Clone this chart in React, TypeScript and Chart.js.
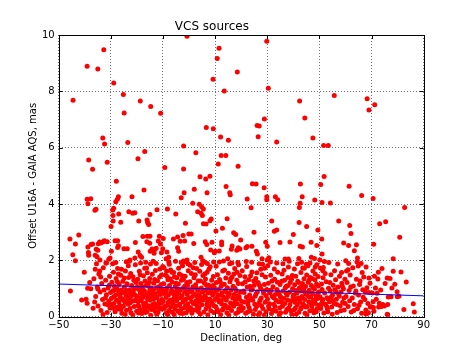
import React, { useEffect, useRef } from 'react';
import { Chart, registerables } from 'chart.js';

Chart.register(...registerables);

const TITLE = 'VCS sources';
const X_LABEL = 'Declination, deg';
const Y_LABEL = 'Offset U16A - GAIA AQS, mas';
const X_TICKS = [-50, -30, -10, 10, 30, 50, 70, 90];
const Y_TICKS = [0, 2, 4, 6, 8, 10];

// Sources with large offsets: [declination, offset]
const highSources: number[][] = [
  [-0.8, 9.96], [-32.7, 9.48], [11.5, 9.53], [10.8, 9.17], [29.8, 9.78],
  [-39.1, 8.89], [-35.0, 8.79], [-28.9, 8.3], [-25.2, 7.89], [-44.5, 7.68], [-18.7, 7.66], [-14.7, 7.46],
  [-24.9, 7.23], [-10.9, 7.22], [-33.1, 6.34], [-32.4, 6.13], [-23.5, 6.18], [-38.5, 5.56], [-19.6, 5.61],
  [-17.0, 5.86], [-31.4, 5.48], [-37.0, 5.23], [-9.3, 5.3],
  [18.5, 8.69], [9.2, 8.43], [13.5, 8.01], [30.4, 8.11], [42.4, 7.66], [28.9, 7.02], [6.6, 6.72], [9.3, 6.67],
  [26.1, 6.79], [26.9, 6.77], [12.1, 6.38], [26.5, 6.39], [15.1, 6.26], [33.6, 6.2], [-2.1, 6.06], [2.6, 5.82],
  [12.3, 5.72], [14.1, 5.72], [11.2, 5.42], [18.8, 5.34], [-2.1, 5.24], [4.2, 4.97], [6.4, 4.89], [8.0, 4.99],
  [55.7, 7.85], [44.4, 7.05], [68.3, 7.74], [71.2, 7.52], [69.0, 7.34], [47.5, 6.34], [51.6, 6.08], [53.4, 6.08], [51.8, 4.98],
];

// Sources with offsets between about 2 and 5 mas: [declination, offset]
const midSources: number[][] = [
  [-27.9, 4.81], [-17.3, 4.5], [-21.9, 4.26], [-27.1, 4.26], [-27.5, 4.17], [-28.1, 4.08], [-39.1, 4.17], [-37.7, 4.19],
  [-38.8, 4.01], [-35.7, 3.81], [-36.1, 3.78], [-28.9, 3.85], [-29.3, 3.79], [-23.1, 3.73], [-20.8, 3.69], [-21.6, 3.67],
  [-27.0, 3.65], [-29.2, 3.59], [-29.1, 3.4], [-29.9, 3.2], [-26.2, 3.35], [-19.3, 3.4], [-16.1, 3.43], [-15.9, 3.34],
  [-15.5, 3.27], [-15.0, 3.63], [-12.3, 3.8], [-8.3, 3.82], [-5.1, 3.65],
  [-45.7, 2.76], [-42.3, 2.9], [-43.6, 2.58], [-44.6, 2.2], [-43.6, 1.99], [-38.8, 2.47], [-38.6, 2.28], [-38.5, 2.18],
  [-37.6, 2.56], [-37.0, 2.58], [-35.6, 2.39], [-35.0, 2.36], [-36.0, 2.18], [-35.3, 2.13], [-34.8, 2.59], [-34.3, 2.65],
  [-33.1, 2.65], [-32.5, 2.7], [-33.9, 2.62], [-31.4, 2.66], [-29.8, 2.32], [-28.4, 2.7], [-27.4, 2.7], [-27.1, 2.52],
  [-27.4, 2.46], [-25.0, 2.41], [-23.7, 2.41], [-30.3, 2.08], [-30.8, 2.04], [-31.7, 1.91], [-34.2, 2.01], [-20.6, 2.63],
  [-19.5, 2.3], [-18.8, 2.17], [-18.2, 2.11], [-20.8, 2.08], [-22.7, 2.01], [-17.7, 2.85], [-16.0, 2.86], [-15.0, 2.86],
  [-16.2, 2.66], [-15.1, 2.61], [-14.2, 2.4], [-14.9, 2.32], [-13.3, 2.37], [-11.4, 2.86], [-9.9, 2.78], [-11.8, 2.69],
  [-11.0, 2.58], [-12.6, 2.43], [-13.4, 2.25], [-8.8, 2.06], [-7.8, 2.11], [-10.1, 2.41], [-10.6, 2.27], [-8.5, 2.3],
  [-4.4, 2.45], [-4.0, 2.32], [-6.0, 2.76],
  [-1.9, 4.4], [-3.0, 4.22], [2.0, 4.52], [6.9, 4.4], [1.4, 4.03], [3.9, 3.99], [4.8, 3.9], [5.5, 3.82], [3.3, 3.73],
  [4.6, 3.67], [5.1, 3.59], [8.5, 3.47], [8.0, 3.41], [-1.4, 3.32], [5.5, 3.3], [6.5, 3.29], [14.2, 4.62], [15.6, 4.4],
  [15.8, 4.33], [24.3, 4.72], [25.7, 4.71], [28.8, 4.58], [29.8, 4.26], [29.8, 4.15], [33.1, 4.26], [34.0, 4.15],
  [22.3, 4.18], [23.8, 3.87], [14.6, 3.48], [10.3, 3.04], [12.8, 3.14], [17.1, 2.98], [17.9, 2.92], [24.9, 3.0],
  [31.7, 3.4], [32.7, 3.03], [33.6, 3.08], [42.2, 3.34],
  [-4.4, 2.83], [-2.3, 2.88], [-3.4, 2.68], [-1.7, 2.69], [-0.1, 2.94], [0.8, 2.94], [1.8, 2.6], [-0.8, 2.01],
  [-1.6, 1.95], [-2.2, 1.98], [6.2, 2.66], [6.8, 2.56], [8.8, 2.64], [8.3, 2.37], [10.1, 2.32], [11.6, 2.33], [9.7, 2.27],
  [4.6, 2.11], [5.3, 1.99], [5.8, 1.94], [12.5, 2.65], [12.5, 2.55], [16.5, 2.51], [16.2, 2.39], [18.3, 2.36], [19.5, 2.4],
  [19.8, 2.72], [18.9, 2.45], [14.8, 2.06], [21.8, 2.45], [22.3, 2.49], [24.1, 2.5], [25.8, 2.32], [26.2, 2.23],
  [18.7, 1.92], [29.4, 2.64], [30.0, 2.5], [30.6, 2.09], [30.0, 2.01], [28.0, 2.06], [34.9, 2.63], [36.8, 2.05],
  [38.1, 2.05], [38.7, 2.65],
  [42.7, 4.71], [50.5, 4.69], [61.4, 4.63], [43.4, 4.26], [48.2, 4.14], [42.6, 4.03], [42.3, 3.88], [51.0, 4.05],
  [54.2, 4.04], [66.2, 4.3], [70.6, 4.2], [82.7, 3.88], [45.1, 3.2], [57.4, 3.4], [61.6, 3.24], [73.1, 3.3], [75.4, 3.37],
  [49.4, 3.08], [40.0, 2.92], [42.6, 2.5], [43.5, 2.47], [46.8, 2.64], [49.0, 2.53], [50.9, 2.76], [62.1, 2.95],
  [59.3, 2.62], [61.2, 2.53], [64.2, 2.55], [63.4, 2.34], [70.8, 2.57], [80.8, 2.82], [51.0, 2.23], [42.1, 2.07],
  [46.9, 2.11], [48.1, 2.07], [50.2, 2.01], [64.6, 2.08], [60.1, 1.99], [78.3, 2.06],
  [45.0, 1.86], [44.2, 1.72], [48.4, 1.76], [51.5, 1.75], [51.3, 1.63], [64.9, 1.8], [66.0, 1.89], [67.9, 1.76], [61.0, 1.67],
];

// Dense cloud below 2 mas, flat (declination, offset) pairs per declination band
const cloudFarSouth = [
  -45.5, 0.91, -40.2, 1.58, -41.2, 0.59, -39.5, 0.62, -39.1, 0.48, -38.1, 1.21, -38.9, 1.01, -37.7, 0.99, -36.8, 0.3, -36.0, 1.68,
];
const cloudM35 = [
  -36.5, 1.35, -35.8, 0.72, -35.2, 1.05, -34.9, 0.38, -34.6, 1.52, -34.1, 0.88, -33.8, 0.22, -33.5, 1.18, -33.2, 0.61, -32.9, 1.74,
  -32.6, 0.95, -32.3, 0.45, -32.0, 1.29, -31.7, 0.78, -31.4, 0.15, -31.1, 1.02, -30.8, 0.55, -30.5, 1.44, -30.3, 0.31, -30.1, 0.86,
  -36.2, 0.52, -35.5, 1.88, -34.3, 1.62, -33.0, 0.08, -31.9, 1.91, -30.6, 1.12, -35.0, 0.98, -32.1, 0.66, -33.9, 1.41, -31.2, 0.42,
];
const cloudM25 = [
  -29.8, 0.65, -29.6, 1.22, -29.4, 0.31, -29.2, 0.92, -29.0, 1.58, -28.8, 0.47, -28.6, 1.08, -28.4, 0.18, -28.2, 0.76, -28.0, 1.36,
  -27.8, 0.58, -27.6, 0.99, -27.4, 1.71, -27.2, 0.27, -27.0, 0.84, -26.8, 1.15, -26.6, 0.41, -26.4, 0.69, -26.2, 1.47, -26.0, 0.95,
  -25.8, 0.12, -25.6, 0.63, -25.4, 1.26, -25.2, 0.37, -25.0, 0.88, -24.8, 1.05, -24.6, 0.51, -24.4, 1.62, -24.2, 0.74, -24.0, 0.23,
  -23.8, 1.17, -23.6, 0.82, -23.4, 0.44, -23.2, 1.39, -23.0, 0.67, -22.8, 0.96, -22.6, 0.29, -22.4, 1.53, -22.2, 0.72, -22.0, 1.11,
  -21.8, 0.55, -21.6, 0.06, -21.4, 0.89, -21.2, 1.29, -21.0, 0.36, -20.8, 0.78, -20.6, 1.84, -20.4, 0.61, -20.2, 1.02, -20.1, 0.19,
  -29.3, 1.88, -28.5, 0.95, -27.9, 0.33, -27.1, 1.52, -26.5, 0.77, -25.9, 1.68, -25.1, 0.58, -24.5, 0.08, -23.9, 0.93, -23.3, 1.81,
  -22.7, 0.49, -22.1, 0.84, -21.5, 1.42, -20.9, 0.57, -20.3, 1.21, -29.9, 0.43, -28.9, 0.71, -27.5, 1.24, -26.1, 0.26, -24.9, 1.37,
  -23.5, 0.61, -22.3, 0.14, -21.1, 0.99, -25.5, 0.86, -26.9, 0.53, -24.1, 1.95, -28.1, 1.92, -22.9, 1.97,
];
const cloudM15 = [
  -19.9, 0.72, -19.7, 1.33, -19.5, 0.41, -19.3, 0.97, -19.1, 1.61, -18.9, 0.25, -18.7, 0.83, -18.5, 1.18, -18.3, 0.56, -18.1, 0.11,
  -17.9, 1.06, -17.7, 0.68, -17.5, 1.45, -17.3, 0.34, -17.1, 0.91, -16.9, 1.27, -16.7, 0.49, -16.5, 0.76, -16.3, 1.73, -16.1, 0.18,
  -15.9, 0.62, -15.7, 1.09, -15.5, 0.39, -15.3, 0.87, -15.1, 1.36, -14.9, 0.58, -14.7, 0.05, -14.5, 1.02, -14.3, 0.74, -14.1, 1.51,
  -13.9, 0.28, -13.7, 0.93, -13.5, 1.19, -13.3, 0.47, -13.1, 0.81, -12.9, 1.64, -12.7, 0.35, -12.5, 1.03, -12.3, 0.66, -12.1, 1.28,
  -11.9, 0.16, -11.7, 0.88, -11.5, 0.53, -11.3, 1.41, -11.1, 0.79, -10.9, 0.31, -10.7, 1.14, -10.5, 0.61, -10.3, 0.98, -10.1, 1.78,
  -19.6, 0.55, -18.8, 1.49, -18.0, 0.81, -17.2, 0.22, -16.4, 1.12, -15.6, 0.71, -14.8, 1.87, -14.0, 0.42, -13.2, 1.32, -12.4, 0.09,
  -11.6, 1.06, -10.8, 0.48, -19.2, 0.36, -17.6, 0.95, -16.0, 1.56, -14.4, 0.26, -12.8, 0.73, -11.2, 1.69, -10.4, 0.27, -18.4, 0.67,
  -16.8, 0.15, -15.2, 1.22, -13.6, 0.63, -12.0, 0.44, -19.8, 1.05, -17.0, 1.72, -15.0, 0.97, -13.0, 0.19, -11.0, 0.92, -16.6, 1.93,
  -13.8, 1.97, -18.6, 1.91, -12.6, 1.89, -19.4, 0.13, -14.6, 0.83, -11.4, 0.29, -17.4, 0.44, -15.8, 0.33, -10.6, 1.48,
];
const cloudM5 = [
  -9.9, 0.54, -9.7, 1.17, -9.5, 0.29, -9.3, 0.86, -9.1, 1.48, -8.9, 0.68, -8.7, 0.13, -8.5, 1.02, -8.3, 0.41, -8.1, 1.31,
  -7.9, 0.77, -7.7, 0.22, -7.5, 1.11, -7.3, 0.59, -7.1, 1.66, -6.9, 0.35, -6.7, 0.94, -6.5, 1.23, -6.3, 0.48, -6.1, 0.82,
  -5.9, 1.57, -5.7, 0.07, -5.5, 0.71, -5.3, 1.07, -5.1, 0.38, -4.9, 0.91, -4.7, 1.38, -4.5, 0.63, -4.3, 0.19, -4.1, 1.16,
  -3.9, 0.85, -3.7, 1.52, -3.5, 0.44, -3.3, 0.96, -3.1, 0.27, -2.9, 1.29, -2.7, 0.74, -2.5, 1.81, -2.3, 0.53, -2.1, 1.04,
  -1.9, 0.31, -1.7, 0.87, -1.5, 1.44, -1.3, 0.62, -1.1, 0.14, -0.9, 1.21, -0.7, 0.79, -0.5, 0.46, -0.3, 1.63, -0.1, 0.95,
  -9.6, 1.74, -8.8, 0.92, -8.0, 0.51, -7.2, 1.34, -6.4, 0.16, -5.6, 1.42, -4.8, 0.56, -4.0, 1.72, -3.2, 0.67, -2.4, 0.11,
  -1.6, 1.09, -0.8, 0.34, -9.2, 0.37, -7.6, 1.86, -6.0, 0.63, -4.4, 0.98, -2.8, 1.46, -1.2, 0.92, -9.8, 0.82, -8.2, 0.06,
  -6.6, 1.58, -5.0, 1.19, -3.4, 0.12, -1.8, 0.58, -0.2, 0.23, -8.6, 1.61, -7.0, 0.88, -5.4, 0.27, -3.8, 0.41, -2.2, 1.33,
  -0.6, 1.12, -7.8, 1.94, -5.2, 1.97, -3.0, 1.92, -0.4, 1.88, -4.6, 0.79, -6.8, 0.56, -1.4, 0.39, -8.4, 1.43,
];
const cloudP5 = [
  0.1, 0.66, 0.3, 1.24, 0.5, 0.33, 0.7, 0.89, 0.9, 1.53, 1.1, 0.12, 1.3, 0.72, 1.5, 1.06, 1.7, 0.47, 1.9, 1.38,
  2.1, 0.81, 2.3, 0.24, 2.5, 1.13, 2.7, 0.57, 2.9, 1.71, 3.1, 0.38, 3.3, 0.93, 3.5, 1.27, 3.7, 0.51, 3.9, 0.78,
  4.1, 1.61, 4.3, 0.09, 4.5, 0.69, 4.7, 1.02, 4.9, 0.42, 5.1, 0.88, 5.3, 1.46, 5.5, 0.59, 5.7, 0.17, 5.9, 1.19,
  6.1, 0.74, 6.3, 1.34, 6.5, 0.28, 6.7, 0.97, 6.9, 1.58, 7.1, 0.52, 7.3, 0.84, 7.5, 1.12, 7.7, 0.36, 7.9, 0.63,
  8.1, 1.77, 8.3, 0.21, 8.5, 0.92, 8.7, 1.29, 8.9, 0.47, 9.1, 0.76, 9.3, 1.43, 9.5, 0.15, 9.7, 1.04, 9.9, 0.61,
  0.4, 1.83, 1.2, 0.95, 2.0, 0.46, 2.8, 1.02, 3.6, 0.18, 4.4, 1.27, 5.2, 0.64, 6.0, 1.52, 6.8, 0.42, 7.6, 1.68,
  8.4, 0.55, 9.2, 1.11, 0.8, 0.28, 2.4, 1.49, 4.0, 0.56, 5.6, 0.91, 7.2, 0.06, 8.8, 0.83, 1.6, 1.74, 3.2, 0.71,
  4.8, 1.85, 6.4, 0.67, 8.0, 1.05, 9.6, 0.39, 0.2, 0.96, 2.2, 1.92, 5.4, 1.96, 7.0, 1.89, 9.4, 1.94, 1.0, 0.54,
  3.8, 0.31, 6.6, 1.13,
];
const cloudP15 = [
  10.1, 0.88, 10.3, 0.35, 10.5, 1.21, 10.7, 0.64, 10.9, 1.49, 11.1, 0.18, 11.3, 0.97, 11.5, 0.53, 11.7, 1.32, 11.9, 0.76,
  12.1, 0.07, 12.3, 1.08, 12.5, 0.45, 12.7, 0.85, 12.9, 1.62, 13.1, 0.29, 13.3, 0.69, 13.5, 1.15, 13.7, 0.41, 13.9, 0.93,
  14.1, 1.37, 14.3, 0.58, 14.5, 0.14, 14.7, 1.03, 14.9, 0.72, 15.1, 1.54, 15.3, 0.33, 15.5, 0.81, 15.7, 1.24, 15.9, 0.49,
  16.1, 0.95, 16.3, 0.22, 16.5, 1.41, 16.7, 0.66, 16.9, 1.08, 17.1, 0.37, 17.3, 0.79, 17.5, 1.71, 17.7, 0.55, 17.9, 0.11,
  18.1, 0.92, 18.3, 1.29, 18.5, 0.46, 18.7, 0.74, 18.9, 1.18, 19.1, 0.27, 19.3, 0.63, 19.5, 1.46, 19.7, 0.87, 19.9, 0.38,
  10.4, 1.79, 11.2, 0.61, 12.0, 1.23, 12.8, 0.24, 13.6, 1.66, 14.4, 0.86, 15.2, 0.06, 16.0, 1.35, 16.8, 0.44, 17.6, 1.01,
  18.4, 1.58, 19.2, 0.71, 10.8, 0.26, 12.4, 0.57, 14.0, 0.39, 15.6, 1.88, 17.2, 1.52, 18.8, 0.16, 11.6, 1.94, 13.2, 1.98,
  16.4, 1.91, 19.0, 1.84, 11.0, 0.78, 14.8, 0.31, 18.2, 0.62,
];
const cloudP25 = [
  20.2, 0.54, 20.5, 1.17, 20.8, 0.31, 21.1, 0.86, 21.4, 1.42, 21.7, 0.12, 22.0, 0.69, 22.3, 1.05, 22.6, 0.43, 22.9, 1.31,
  23.2, 0.77, 23.5, 0.21, 23.8, 0.95, 24.1, 1.59, 24.4, 0.58, 24.7, 0.09, 25.0, 1.12, 25.3, 0.73, 25.6, 1.36, 25.9, 0.36,
  26.2, 0.89, 26.5, 1.21, 26.8, 0.48, 27.1, 0.14, 27.4, 1.02, 27.7, 0.66, 28.0, 1.49, 28.3, 0.29, 28.6, 0.83, 28.9, 1.14,
  29.2, 0.51, 29.5, 0.18, 29.8, 0.97, 20.4, 1.63, 21.2, 0.52, 22.1, 1.78, 23.0, 0.33, 23.9, 0.64, 24.8, 1.27, 25.7, 0.81,
  26.6, 0.07, 27.5, 1.68, 28.4, 0.92, 29.3, 1.41, 20.9, 0.91, 22.5, 0.17, 24.3, 0.97, 26.0, 1.56, 27.8, 0.39, 29.6, 0.74,
  21.6, 1.24, 23.6, 1.45, 25.4, 0.26, 27.2, 0.58, 28.8, 0.05, 24.0, 1.93, 26.9, 1.88, 21.9, 1.96, 28.2, 1.86, 20.1, 0.22,
  22.8, 0.57, 25.2, 0.44, 29.0, 1.72, 23.4, 1.08, 27.0, 1.12,
];
const cloudP35 = [
  30.1, 0.62, 30.4, 1.19, 30.7, 0.28, 31.0, 0.85, 31.3, 1.47, 31.6, 0.11, 31.9, 0.73, 32.2, 1.06, 32.5, 0.44, 32.8, 1.33,
  33.1, 0.79, 33.4, 0.19, 33.7, 0.97, 34.0, 1.58, 34.3, 0.53, 34.6, 0.06, 34.9, 1.14, 35.2, 0.68, 35.5, 1.26, 35.8, 0.37,
  36.1, 0.91, 36.4, 1.65, 36.7, 0.47, 37.0, 0.16, 37.3, 1.08, 37.6, 0.76, 37.9, 1.39, 38.2, 0.31, 38.5, 0.87, 38.8, 1.21,
  39.1, 0.57, 39.4, 0.09, 39.7, 0.99, 30.2, 1.81, 30.9, 0.46, 31.5, 0.94, 32.1, 0.23, 32.7, 1.69, 33.3, 0.59, 33.9, 1.22,
  34.5, 0.81, 35.1, 0.14, 35.7, 1.52, 36.3, 0.65, 36.9, 1.03, 37.5, 0.26, 38.1, 1.76, 38.7, 0.42, 39.3, 1.33, 39.9, 0.71,
  30.6, 0.93, 31.8, 1.27, 33.0, 0.36, 34.2, 0.89, 35.4, 0.51, 36.6, 1.29, 37.8, 0.58, 39.0, 0.21, 31.2, 1.94, 33.6, 1.91,
  36.0, 1.88, 38.4, 1.97, 32.4, 0.67, 34.8, 0.32, 37.2, 0.84, 39.6, 1.46, 30.5, 0.37, 35.0, 0.73, 38.0, 1.11,
];
const cloudP45 = [
  40.1, 0.77, 40.3, 0.25, 40.5, 1.13, 40.7, 0.58, 40.9, 1.44, 41.1, 0.09, 41.3, 0.83, 41.5, 0.42, 41.7, 1.26, 41.9, 0.66,
  42.1, 0.16, 42.3, 1.02, 42.5, 0.51, 42.7, 0.91, 42.9, 1.57, 43.1, 0.33, 43.3, 0.72, 43.5, 1.18, 43.7, 0.45, 43.9, 0.97,
  44.1, 1.35, 44.3, 0.61, 44.5, 0.12, 44.7, 1.07, 44.9, 0.79, 45.1, 1.48, 45.3, 0.36, 45.5, 0.86, 45.7, 1.22, 45.9, 0.53,
  46.1, 0.94, 46.3, 0.21, 46.5, 1.39, 46.7, 0.69, 46.9, 1.11, 47.1, 0.38, 47.3, 0.82, 47.5, 1.62, 47.7, 0.56, 47.9, 0.14,
  48.1, 0.98, 48.3, 1.31, 48.5, 0.47, 48.7, 0.74, 48.9, 1.16, 49.1, 0.29, 49.3, 0.65, 49.5, 1.43, 49.7, 0.88, 49.9, 0.41,
  40.4, 1.69, 41.2, 0.64, 42.0, 1.21, 42.8, 0.27, 43.6, 1.73, 44.4, 0.87, 45.2, 0.06, 46.0, 1.29, 46.8, 0.47, 47.6, 1.04,
  48.4, 1.52, 49.2, 0.76, 40.8, 0.31, 42.4, 0.62, 44.0, 0.41, 45.6, 1.81, 47.2, 1.36, 48.8, 0.18, 41.6, 1.88, 43.2, 1.93,
  46.4, 1.91, 49.0, 1.84, 41.0, 0.93, 44.8, 0.34, 48.2, 0.59, 40.6, 0.51, 43.0, 1.06, 45.8, 0.72, 47.4, 0.23, 49.6, 1.09,
];
const cloudP55 = [
  50.2, 0.71, 50.5, 0.29, 50.8, 1.16, 51.1, 0.56, 51.4, 1.38, 51.7, 0.13, 52.0, 0.84, 52.3, 0.44, 52.6, 1.24, 52.9, 0.67,
  53.2, 0.18, 53.5, 1.01, 53.8, 0.53, 54.1, 0.92, 54.4, 1.49, 54.7, 0.34, 55.0, 0.76, 55.3, 1.12, 55.6, 0.47, 55.9, 0.96,
  56.2, 1.31, 56.5, 0.62, 56.8, 0.15, 57.1, 1.05, 57.4, 0.81, 57.7, 1.44, 58.0, 0.39, 58.3, 0.88, 58.6, 1.19, 58.9, 0.51,
  59.2, 0.99, 59.5, 0.24, 59.8, 1.33, 50.4, 1.72, 51.3, 0.61, 52.2, 1.53, 53.1, 0.27, 54.0, 1.21, 54.9, 0.09, 55.8, 1.63,
  56.7, 0.43, 57.6, 0.73, 58.5, 1.57, 59.4, 0.66, 51.0, 0.97, 52.8, 0.36, 54.6, 0.71, 56.4, 0.88, 58.2, 0.21, 59.9, 0.47,
  53.6, 1.92, 57.0, 1.87, 51.9, 1.96, 55.2, 0.57, 58.8, 1.08, 50.7, 0.42, 53.3, 0.64,
];
const cloudP65 = [
  60.2, 0.72, 60.6, 1.21, 61.0, 0.36, 61.4, 0.93, 61.8, 1.48, 62.2, 0.17, 62.6, 0.66, 63.0, 1.09, 63.4, 0.43, 63.8, 0.84,
  64.2, 1.33, 64.6, 0.28, 65.0, 0.77, 65.4, 1.14, 65.8, 0.52, 66.2, 0.12, 66.6, 0.96, 67.0, 1.41, 67.4, 0.61, 67.8, 0.24,
  68.2, 1.03, 68.6, 0.47, 69.0, 0.86, 69.4, 1.19, 69.8, 0.35, 60.4, 1.62, 61.6, 0.57, 62.8, 1.74, 64.0, 0.91, 65.2, 0.41,
  66.4, 1.57, 67.6, 0.88, 68.8, 0.14, 63.2, 0.22, 65.6, 1.27, 61.2, 1.89, 64.4, 1.94, 66.8, 0.69, 62.0, 1.05,
];
const cloudNorth = [
  70.3, 0.84, 70.6, 0.53, 70.7, 0.33, 69.5, 0.34, 71.1, 1.44, 72.1, 0.83, 72.4, 1.34, 72.6, 1.58, 72.7, 0.34, 73.0, 0.48,
  73.8, 0.36, 74.3, 0.43, 74.5, 0.41, 74.9, 0.38, 76.0, 0.09, 76.0, 1.37, 76.2, 0.43, 76.2, 0.07, 76.4, 0.7, 77.1, 1.36,
  77.5, 0.71, 78.3, 1.61, 78.9, 1.15, 79.8, 0.89, 79.9, 0.71, 80.5, 0.73, 81.3, 1.59, 82.4, 0.26, 83.3, 1.23, 86.0, 0.46,
  86.4, 0.17, 67.9, 0.1, 68.1, 0.11, 69.0, 1.37, 71.5, 1.02, 73.5, 0.95, 75.2, 1.18, 71.8, 0.62, 74.0, 1.71, 77.8, 1.02, 70.9, 0.19,
];

// Linear trend (blue line) at the axis ends
const trendDec = [-50, 90];
const trendOffset = [1.16, 0.74];

const FONT = 'DejaVu Sans';

function pairsToPoints(flat: number[]) {
  const out: { x: number; y: number }[] = [];
  for (let i = 0; i + 1 < flat.length; i += 2) out.push({ x: flat[i], y: flat[i + 1] });
  return out;
}

const fmt = (v: number) => (v < 0 ? '\u2212' + Math.abs(v) : String(v));

const framePlugin = {
  id: 'frameTicks',
  afterDatasetsDraw(chart: any) {
    const { ctx, chartArea: a, scales } = chart;
    ctx.save();
    ctx.strokeStyle = '#000';
    ctx.lineWidth = 1;
    ctx.beginPath();
    for (const v of X_TICKS) {
      const x = Math.round(scales.x.getPixelForValue(v)) + 0.5;
      ctx.moveTo(x, a.bottom);
      ctx.lineTo(x, a.bottom - 4);
      ctx.moveTo(x, a.top);
      ctx.lineTo(x, a.top + 4);
    }
    for (const v of Y_TICKS) {
      const y = Math.round(scales.y.getPixelForValue(v)) + 0.5;
      ctx.moveTo(a.left, y);
      ctx.lineTo(a.left + 4, y);
      ctx.moveTo(a.right, y);
      ctx.lineTo(a.right - 4, y);
    }
    ctx.stroke();
    ctx.strokeRect(Math.round(a.left) + 0.5, Math.round(a.top) + 0.5, Math.round(a.right - a.left), Math.round(a.bottom - a.top));
    ctx.restore();
  },
};

export default function App() {
  const ref = useRef<HTMLCanvasElement | null>(null);
  useEffect(() => {
    document.body.style.margin = '0';
    const canvas = ref.current;
    if (!canvas) return;
    const points = [
      ...highSources.map(([x, y]) => ({ x, y })),
      ...midSources.map(([x, y]) => ({ x, y })),
      ...pairsToPoints(cloudFarSouth),
      ...pairsToPoints(cloudM35),
      ...pairsToPoints(cloudM25),
      ...pairsToPoints(cloudM15),
      ...pairsToPoints(cloudM5),
      ...pairsToPoints(cloudP5),
      ...pairsToPoints(cloudP15),
      ...pairsToPoints(cloudP25),
      ...pairsToPoints(cloudP35),
      ...pairsToPoints(cloudP45),
      ...pairsToPoints(cloudP55),
      ...pairsToPoints(cloudP65),
      ...pairsToPoints(cloudNorth),
    ];
    const trend = trendDec.map((x, i) => ({ x, y: trendOffset[i] }));
    const gridCommon = {
      color: 'rgba(0,0,0,0.55)',
      lineWidth: 1,
      drawTicks: false,
    };
    const chart = new Chart(canvas, {
      type: 'scatter',
      data: {
        datasets: [
          {
            label: 'trend',
            data: trend,
            showLine: true,
            borderColor: '#0000ff',
            borderWidth: 1,
            pointRadius: 0,
            order: 0,
          },
          {
            label: 'sources',
            data: points,
            backgroundColor: '#ff0000',
            borderColor: '#ff0000',
            borderWidth: 0,
            pointRadius: 2.5,
            order: 1,
          },
        ],
      },
      options: {
        animation: false,
        responsive: false,
        devicePixelRatio: 1,
        layout: { padding: { left: 0, right: 47.3, top: 0, bottom: 0 } },
        plugins: {
          legend: { display: false },
          tooltip: { enabled: false },
          title: {
            display: true,
            text: TITLE,
            color: '#000',
            font: { family: FONT, size: 12, weight: 'normal' },
            padding: { top: 19.6, bottom: 1 },
          },
        },
        scales: {
          x: {
            type: 'linear',
            min: -50,
            max: 90,
            afterFit: (s: any) => { s.height = 36.3; },
            ticks: {
              stepSize: 20,
              callback: (v: any) => fmt(Number(v)),
              color: '#000',
              font: { family: FONT, size: 10 },
              padding: 3,
              maxRotation: 0,
            },
            grid: gridCommon,
            border: { display: false, dash: [1, 2] },
            title: {
              display: true,
              text: X_LABEL,
              color: '#000',
              font: { family: FONT, size: 10 },
              padding: { top: 0, bottom: 8.5 },
            },
          },
          y: {
            type: 'linear',
            min: 0,
            max: 10,
            afterFit: (s: any) => { s.width = 58.7; },
            ticks: {
              stepSize: 2,
              callback: (v: any) => fmt(Number(v)),
              color: '#000',
              font: { family: FONT, size: 10 },
              padding: 4,
            },
            grid: gridCommon,
            border: { display: false, dash: [1, 2] },
            title: {
              display: true,
              text: Y_LABEL,
              color: '#000',
              font: { family: FONT, size: 10 },
              padding: { top: 27, bottom: 0 },
            },
          },
        },
      },
      plugins: [framePlugin],
    } as any);
    return () => chart.destroy();
  }, []);
  return <canvas ref={ref} width={471} height={353} style={{ display: 'block', width: 471, height: 353 }} />;
}
